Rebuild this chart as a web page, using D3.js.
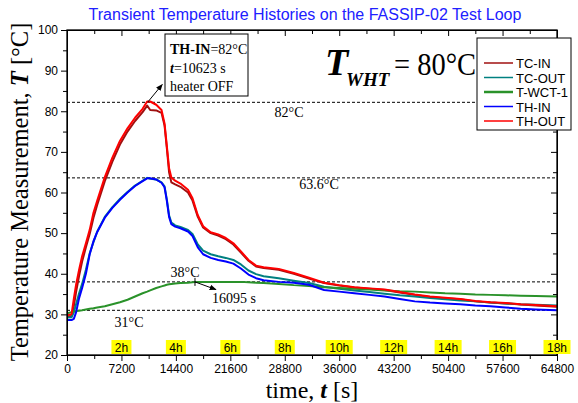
<!DOCTYPE html>
<html>
<head>
<meta charset="utf-8">
<script src="https://cdn.jsdelivr.net/npm/d3@7"></script>
<style>
body { margin: 0; background: #fff; }
svg text { font-family: "Liberation Sans", Arial, sans-serif; }
.serif { font-family: "Liberation Serif", "Times New Roman", serif; }
</style>
</head>
<body>
<div class="content"></div>
<script>
// time axis [s] and five measured series [°C]
var times = [0, 600, 900, 1200, 1600, 2000, 2500, 3000, 3500, 4000, 5000, 6000, 7000, 8000, 9000, 10000, 10600, 11000, 11800, 12500, 12900, 13200, 13500, 13800, 14300, 15000, 16000, 16600, 17300, 18000, 19000, 20000, 21000, 22000, 23000, 24000, 25000, 26000, 28000, 30000, 32000, 34000, 36000, 38000, 40000, 42000, 44000, 46000, 48000, 50000, 52000, 54000, 56000, 58000, 60000, 62000, 64800];
var tcIn = [29.5, 29.6, 32.0, 35.5, 39.5, 43.0, 46.5, 49.8, 53.8, 57.0, 62.8, 67.6, 71.8, 75.0, 77.6, 79.8, 81.4, 80.3, 80.2, 79.6, 76.5, 71.0, 65.0, 62.5, 62.0, 61.4, 60.0, 58.0, 54.0, 51.4, 50.0, 49.4, 48.5, 47.2, 45.2, 43.2, 41.8, 41.4, 41.0, 40.0, 38.8, 37.7, 37.1, 36.6, 36.3, 36.0, 35.4, 34.8, 34.3, 34.0, 33.7, 33.2, 32.9, 32.7, 32.4, 32.2, 31.9];
var tcOut = [29.2, 29.3, 30.5, 32.5, 35.2, 37.5, 41.0, 45.0, 47.8, 50.4, 54.0, 56.4, 58.4, 60.1, 61.7, 62.9, 63.6, 63.4, 63.2, 62.5, 61.5, 58.3, 54.4, 52.6, 51.9, 51.5, 50.8, 49.8, 47.2, 45.7, 44.8, 44.3, 43.9, 43.4, 42.3, 40.8, 39.9, 39.4, 38.9, 38.3, 37.7, 36.8, 36.3, 35.9, 35.5, 35.1, 34.7, 34.4, 34.0, 33.7, 33.4, 33.2, 32.9, 32.7, 32.5, 32.4, 32.2];
var tWct1 = [30.3, 30.5, 30.7, 30.8, 30.9, 31.0, 31.2, 31.4, 31.5, 31.7, 32.0, 32.5, 33.0, 33.6, 34.4, 35.2, 35.6, 35.9, 36.5, 36.9, 37.1, 37.3, 37.4, 37.5, 37.6, 37.7, 37.8, 37.9, 38.0, 38.0, 38.0, 38.0, 38.0, 38.0, 38.0, 37.9, 37.8, 37.7, 37.5, 37.2, 37.0, 36.7, 36.5, 36.3, 36.1, 35.9, 35.7, 35.6, 35.4, 35.2, 35.1, 34.9, 34.8, 34.7, 34.6, 34.5, 34.4];
var thIn = [28.6, 28.6, 28.9, 30.5, 34.0, 36.5, 40.0, 44.8, 48.0, 50.3, 53.8, 56.2, 58.2, 60.0, 61.6, 62.8, 63.5, 63.5, 63.2, 62.4, 61.3, 58.0, 54.0, 52.2, 51.6, 51.2, 50.4, 49.3, 46.5, 44.8, 43.9, 43.4, 43.0, 42.5, 41.3, 39.8, 38.9, 38.4, 38.0, 37.8, 37.3, 36.0, 35.6, 35.2, 34.8, 34.4, 33.8, 33.2, 32.9, 32.7, 32.5, 32.2, 32.0, 31.7, 31.4, 31.2, 31.0];
var thOut = [29.8, 30.0, 33.8, 37.3, 41.0, 44.3, 47.5, 50.8, 55.0, 58.0, 63.8, 68.6, 72.7, 75.8, 78.4, 80.6, 82.4, 82.4, 81.6, 80.3, 77.0, 71.5, 66.0, 63.7, 62.9, 62.2, 60.7, 58.6, 54.4, 51.7, 50.2, 49.7, 48.8, 47.5, 45.5, 43.4, 42.0, 41.6, 41.2, 40.2, 39.0, 37.8, 37.2, 36.7, 36.4, 36.1, 35.5, 34.9, 34.4, 34.1, 33.8, 33.3, 33.0, 32.8, 32.5, 32.3, 32.0];

var seriesNames = ["TC-IN", "TC-OUT", "T-WCT-1", "TH-IN", "TH-OUT"];
var seriesValues = [tcIn, tcOut, tWct1, thIn, thOut];
var seriesColors = ["#a01010", "#008080", "#2a922a", "#0000ff", "#ff0000"];

var xTicks = [0, 7200, 14400, 21600, 28800, 36000, 43200, 50400, 57600, 64800];
var hourLabels = ["2h", "4h", "6h", "8h", "10h", "12h", "14h", "16h", "18h"];
var yTicks = [20, 30, 40, 50, 60, 70, 80, 90, 100];
var refLevels = [82.2, 63.6, 38, 31];
var refLabels = ["82°C", "63.6°C", "38°C", "31°C"];

var W = 578, H = 403;
var pL = 67, pR = 557, pT = 30, pB = 355;

var svg = d3.select(".content").append("svg").attr("width", W).attr("height", H);

var x = d3.scaleLinear().domain([0, 64800]).range([pL, pR]);
var y = d3.scaleLinear().domain([20, 100]).range([pB, pT]);

var minorX = d3.range(3600, 64800, 7200);
var minorY = d3.range(25, 100, 10);

// title
svg.append("text").attr("x", 305).attr("y", 20).attr("text-anchor", "middle")
  .attr("font-size", 16).attr("fill", "#2020ff")
  .text("Transient Temperature Histories on the FASSIP-02 Test Loop");

// dashed reference lines
refLevels.forEach(function(v) {
  svg.append("line").attr("x1", pL).attr("x2", pR).attr("y1", y(v)).attr("y2", y(v))
    .attr("stroke", "#000").attr("stroke-width", 1).attr("stroke-dasharray", "3,2");
});

// curves
var line = d3.line().x(function(d, i) { return x(times[i]); }).y(function(d) { return y(d); });
seriesValues.forEach(function(vals, k) {
  svg.append("path").datum(vals).attr("d", line).attr("fill", "none")
    .attr("stroke", seriesColors[k]).attr("stroke-width", 2).attr("stroke-linejoin", "round");
});

// axes
function noLab() { return ""; }
var fmt = d3.format("d");
svg.append("g").attr("transform", "translate(0," + pB + ")")
  .call(d3.axisBottom(x).tickValues(xTicks).tickSize(6).tickSizeOuter(0).tickPadding(3).tickFormat(fmt));
svg.append("g").attr("transform", "translate(0," + pB + ")")
  .call(d3.axisBottom(x).tickValues(minorX).tickSize(4).tickSizeOuter(0).tickFormat(noLab));
svg.append("g").attr("transform", "translate(" + pL + ",0)")
  .call(d3.axisLeft(y).tickValues(yTicks).tickSize(6).tickSizeOuter(0).tickPadding(3).tickFormat(fmt));
svg.append("g").attr("transform", "translate(" + pL + ",0)")
  .call(d3.axisLeft(y).tickValues(minorY).tickSize(4).tickSizeOuter(0).tickFormat(noLab));
// mirrored ticks pointing inward
svg.append("g").attr("transform", "translate(0," + pT + ")")
  .call(d3.axisBottom(x).tickValues(xTicks).tickSize(6).tickSizeOuter(0).tickFormat(noLab));
svg.append("g").attr("transform", "translate(0," + pT + ")")
  .call(d3.axisBottom(x).tickValues(minorX).tickSize(4).tickSizeOuter(0).tickFormat(noLab));
svg.append("g").attr("transform", "translate(" + pR + ",0)")
  .call(d3.axisLeft(y).tickValues(yTicks).tickSize(6).tickSizeOuter(0).tickFormat(noLab));
svg.append("g").attr("transform", "translate(" + pR + ",0)")
  .call(d3.axisLeft(y).tickValues(minorY).tickSize(4).tickSizeOuter(0).tickFormat(noLab));
svg.selectAll(".tick text").attr("font-size", 12).attr("font-family", "Liberation Sans, Arial, sans-serif").attr("fill", "#000");
svg.selectAll(".domain").attr("stroke", "#000");
svg.selectAll(".tick line").attr("stroke", "#000");

svg.append("rect").attr("x", pL).attr("y", pT).attr("width", pR - pL).attr("height", pB - pT)
  .attr("fill", "none").attr("stroke", "#000").attr("stroke-width", 1.3);

// hour markers
hourLabels.forEach(function(h, i) {
  var cx = x(xTicks[i + 1]);
  var w = h.length * 7 + 6;
  svg.append("rect").attr("x", cx - w / 2).attr("y", pB - 15).attr("width", w).attr("height", 14).attr("fill", "#ffff00");
  svg.append("text").attr("x", cx).attr("y", pB - 3.5).attr("text-anchor", "middle")
    .attr("font-size", 12).attr("fill", "#000").text(h);
});

// reference labels
var refPos = [[289, 117], [319, 189], [185, 277], [129, 327]];
refLabels.forEach(function(s, i) {
  svg.append("text").attr("class", "serif").attr("x", refPos[i][0]).attr("y", refPos[i][1])
    .attr("text-anchor", "middle").attr("font-size", 14).attr("fill", "#000").text(s);
});

// arrow marker
svg.append("defs").append("marker").attr("id", "arr").attr("viewBox", "0 0 10 10")
  .attr("refX", 9).attr("refY", 5).attr("markerWidth", 7).attr("markerHeight", 7).attr("orient", "auto")
  .append("path").attr("d", "M0,1L10,5L0,9Z").attr("fill", "#000");

// heater OFF annotation
svg.append("line").attr("x1", x(10700)).attr("y1", y(82.3)).attr("x2", x(12600)).attr("y2", y(86.6))
  .attr("stroke", "#000").attr("stroke-width", 1).attr("marker-end", "url(#arr)");
svg.append("rect").attr("x", 165).attr("y", 34).attr("width", 83).attr("height", 62)
  .attr("fill", "#fff").attr("stroke", "#000").attr("stroke-width", 1);
var t1 = svg.append("text").attr("class", "serif").attr("x", 170).attr("y", 54).attr("font-size", 14);
t1.append("tspan").attr("font-weight", "bold").text("TH-IN");
t1.append("tspan").text("=82°C");
var t2 = svg.append("text").attr("class", "serif").attr("x", 170).attr("y", 73).attr("font-size", 14);
t2.append("tspan").attr("font-weight", "bold").attr("font-style", "italic").text("t");
t2.append("tspan").text("=10623 s");
svg.append("text").attr("class", "serif").attr("x", 170).attr("y", 91).attr("font-size", 14).text("heater OFF");

// 16095 s annotation
svg.append("line").attr("x1", x(16927)).attr("x2", x(16927)).attr("y1", y(38) - 4).attr("y2", y(38) + 4)
  .attr("stroke", "#000");
svg.append("line").attr("x1", x(16927)).attr("y1", y(38)).attr("x2", x(19700)).attr("y2", y(36.1))
  .attr("stroke", "#000").attr("stroke-width", 1).attr("marker-end", "url(#arr)");
svg.append("text").attr("class", "serif").attr("x", 212).attr("y", 303).attr("font-size", 14).text("16095 s");

// big label
svg.append("text").attr("class", "serif").attr("x", 325).attr("y", 75).attr("font-size", 38)
  .attr("font-weight", "bold").attr("font-style", "italic").text("T");
svg.append("text").attr("class", "serif").attr("x", 346).attr("y", 86).attr("font-size", 19)
  .attr("font-weight", "bold").attr("font-style", "italic").text("WHT");
svg.append("text").attr("class", "serif").attr("x", 394).attr("y", 75).attr("font-size", 32)
  .attr("textLength", 82).attr("lengthAdjust", "spacingAndGlyphs").text("= 80°C");

// legend
svg.append("rect").attr("x", 477).attr("y", 38).attr("width", 94).attr("height", 92)
  .attr("fill", "#fff").attr("stroke", "#000").attr("stroke-width", 1);
seriesNames.forEach(function(n, i) {
  var ly = 63 + i * 14.5;
  svg.append("line").attr("x1", 484).attr("x2", 513).attr("y1", ly).attr("y2", ly)
    .attr("stroke", seriesColors[i]).attr("stroke-width", i == 2 ? 2.5 : 1.5);
  svg.append("text").attr("x", 516).attr("y", ly + 5).attr("font-size", 13).attr("fill", "#000").text(n);
});

// axis titles
var yl = svg.append("text").attr("class", "serif").attr("transform", "translate(28,192) rotate(-90)")
  .attr("text-anchor", "middle").attr("font-size", 24.5).attr("fill", "#000");
yl.append("tspan").text("Temperature Measurement, ");
yl.append("tspan").attr("font-weight", "bold").attr("font-style", "italic").text("T");
yl.append("tspan").text(" [°C]");

var xl = svg.append("text").attr("class", "serif").attr("x", 312).attr("y", 398)
  .attr("text-anchor", "middle").attr("font-size", 24).attr("fill", "#000");
xl.append("tspan").text("time, ");
xl.append("tspan").attr("font-weight", "bold").attr("font-style", "italic").text("t");
xl.append("tspan").text(" [s]");
</script>
</body>
</html>
